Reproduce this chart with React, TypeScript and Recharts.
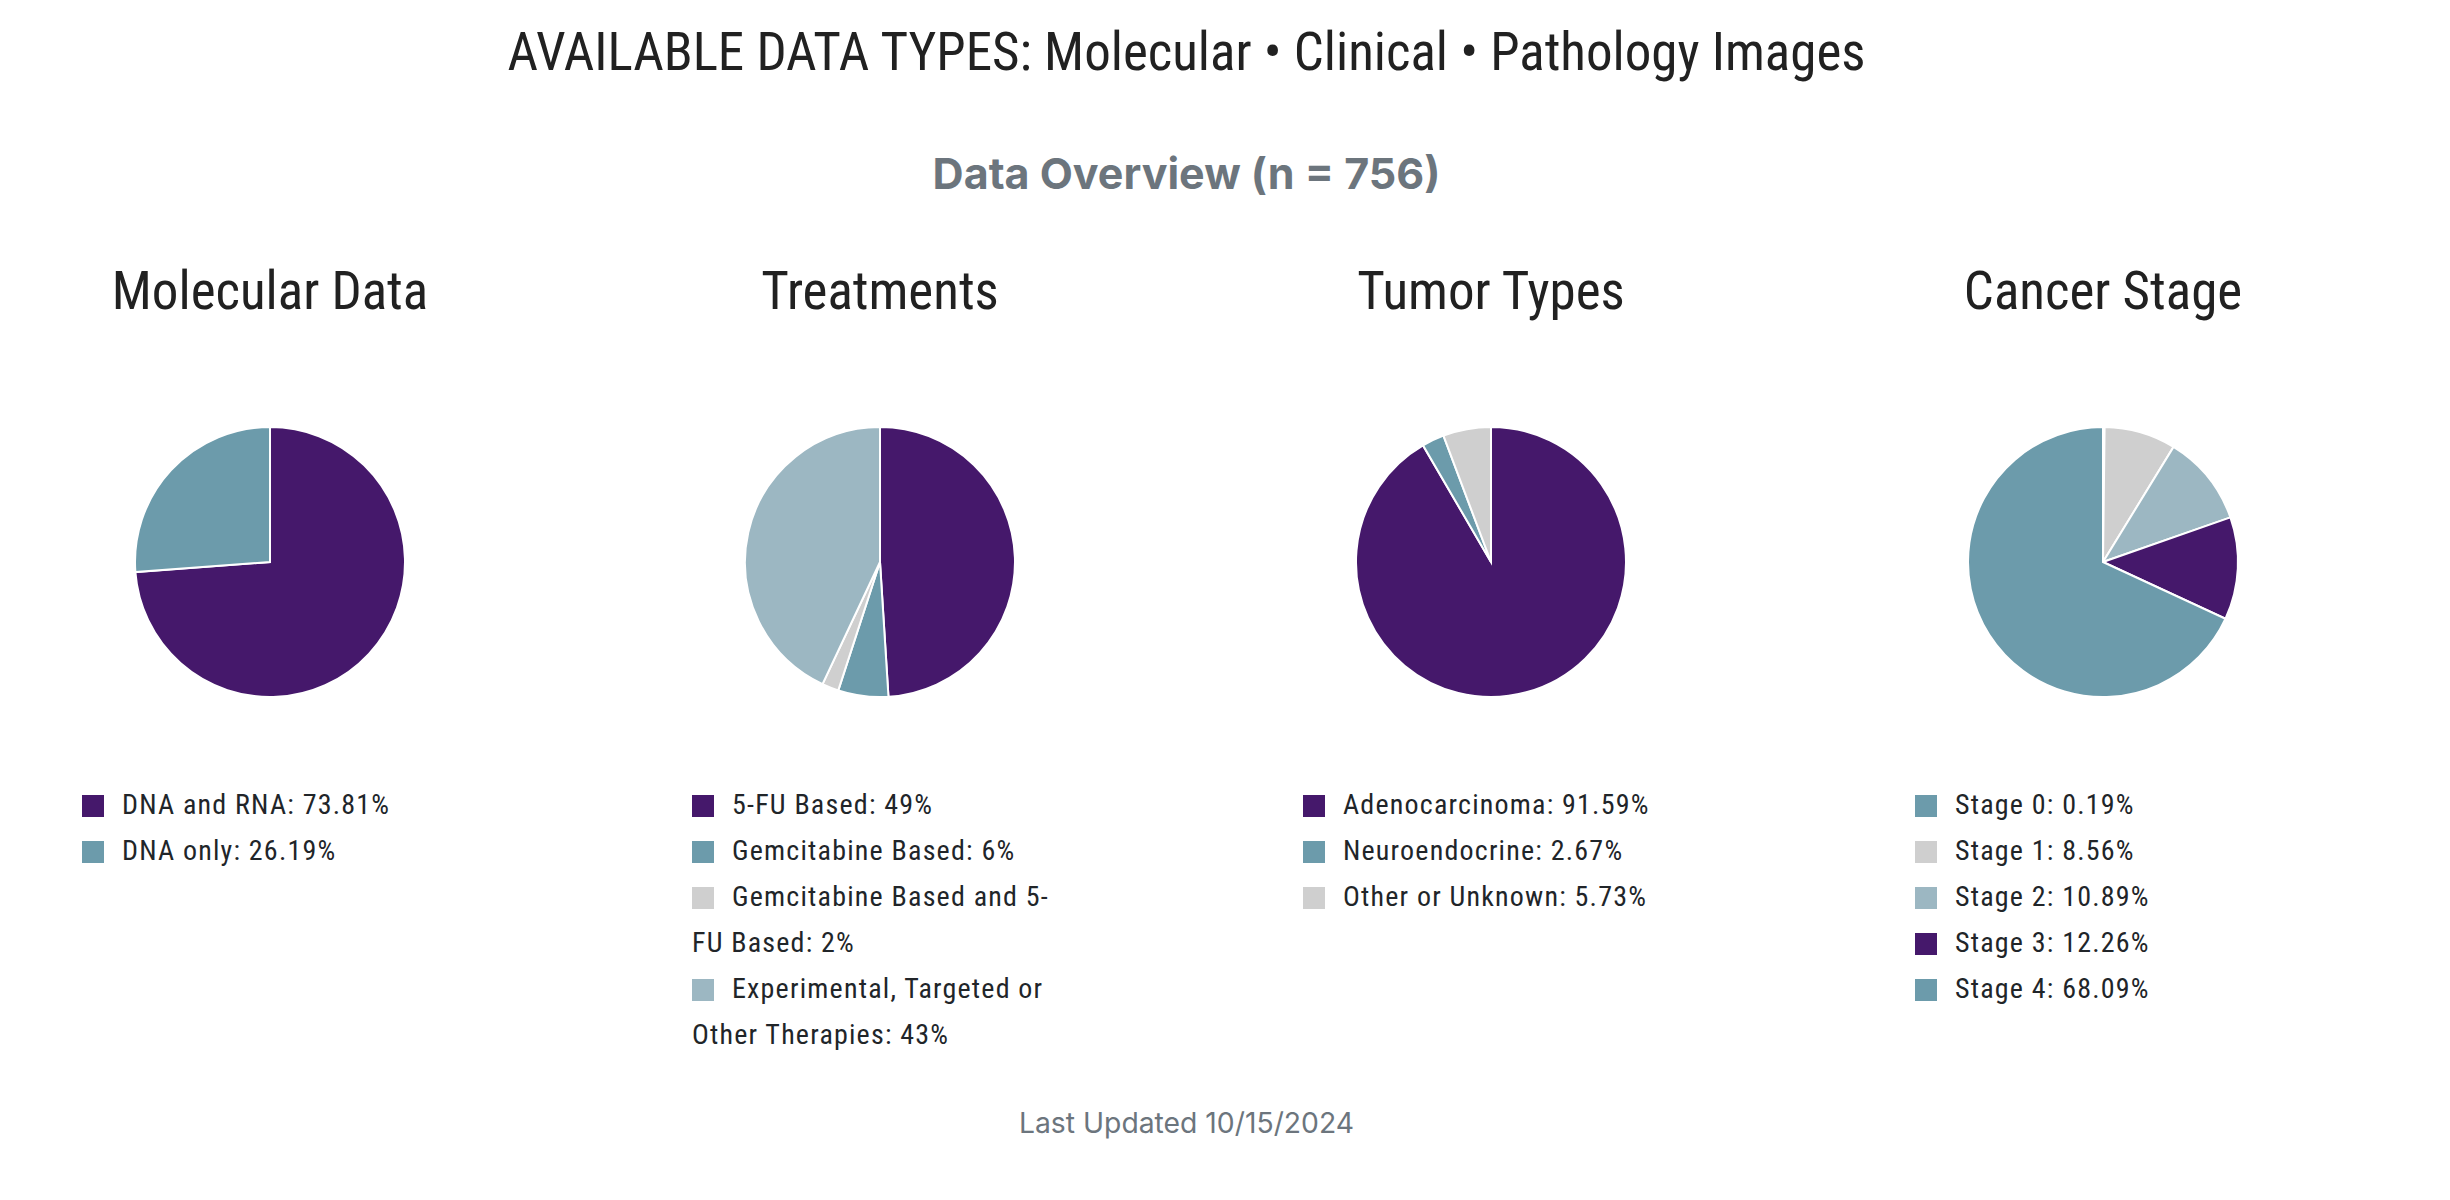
import React from "react";
import { PieChart, Pie, Cell } from "recharts";

const PURPLE = "#45186b";
const TEAL = "#6c9bab";
const LIGHT = "#9cb7c2";
const GRAY = "#cfcfcf";

const molecularLabels = ["DNA and RNA", "DNA only"];
const molecularValues = [73.81, 26.19];
const molecularColors = [PURPLE, TEAL];

const treatmentLabels = [
  "5-FU Based",
  "Gemcitabine Based",
  "Gemcitabine Based and 5-FU Based",
  "Experimental, Targeted or Other Therapies",
];
const treatmentValues = [49, 6, 2, 43];
const treatmentColors = [PURPLE, TEAL, GRAY, LIGHT];

const tumorLabels = ["Adenocarcinoma", "Neuroendocrine", "Other or Unknown"];
const tumorValues = [91.59, 2.67, 5.73];
const tumorColors = [PURPLE, TEAL, GRAY];

const stageLabels = ["Stage 0", "Stage 1", "Stage 2", "Stage 3", "Stage 4"];
const stageValues = [0.19, 8.56, 10.89, 12.26, 68.09];
const stageColors = [TEAL, GRAY, LIGHT, PURPLE, TEAL];

const COND = "'Roboto Condensed', 'Liberation Sans Narrow', 'DejaVu Sans Condensed', Roboto, sans-serif";
const SANS = "Inter, 'Noto Sans', sans-serif";

const panels = [
  { title: "Molecular Data", labels: molecularLabels, values: molecularValues, colors: molecularColors, cx: 270 },
  { title: "Treatments", labels: treatmentLabels, values: treatmentValues, colors: treatmentColors, cx: 880 },
  { title: "Tumor Types", labels: tumorLabels, values: tumorValues, colors: tumorColors, cx: 1491 },
  { title: "Cancer Stage", labels: stageLabels, values: stageValues, colors: stageColors, cx: 2103 },
];

function Panel({ title, labels, values, colors, cx }: any) {
  const data = labels.map((name: string, i: number) => ({ name, value: values[i] }));
  return (
    <>
      <div
        style={{
          position: "absolute", left: cx - 270, top: 261, width: 540, height: 60,
          lineHeight: "60px", textAlign: "center", fontFamily: COND, fontStretch: "condensed",
          fontSize: 53, color: "#212121",
        }}
      >
        {title}
      </div>
      <div style={{ position: "absolute", left: cx - 270, top: 412 }}>
        <PieChart width={540} height={300} margin={{ top: 0, right: 0, bottom: 0, left: 0 }}>
          <Pie
            data={data}
            dataKey="value"
            nameKey="name"
            cx="50%"
            cy="50%"
            outerRadius={135}
            startAngle={90}
            endAngle={-270}
            stroke="#ffffff"
            strokeWidth={2}
            isAnimationActive={false}
          >
            {data.map((d: any, i: number) => (
              <Cell key={d.name} fill={colors[i]} />
            ))}
          </Pie>
        </PieChart>
      </div>
      <div
        style={{
          position: "absolute", left: cx - 188, top: 782, width: 376,
          fontFamily: COND, fontStretch: "condensed", fontSize: 28, letterSpacing: "1.2px",
          lineHeight: "46px", color: "#212529",
        }}
      >
        {data.map((d: any, i: number) => (
          <div key={d.name}>
            <span
              style={{
                display: "inline-block", width: 22, height: 22, background: colors[i],
                marginRight: 18, verticalAlign: "-3px",
              }}
            />
            {d.name}: {d.value}%
          </div>
        ))}
      </div>
    </>
  );
}

export default function App() {
  return (
    <div style={{ position: "absolute", left: 0, top: 0, width: 2450, height: 1200, background: "#fff" }}>
      <div
        style={{
          position: "absolute", left: 0, top: 22, width: 2373, height: 60, lineHeight: "60px",
          textAlign: "center", fontFamily: COND, fontStretch: "condensed", fontSize: 53, color: "#212121",
        }}
      >
        AVAILABLE DATA TYPES: Molecular • Clinical • Pathology Images
      </div>
      <div
        style={{
          position: "absolute", left: 0, top: 148, width: 2373, height: 50, lineHeight: "50px",
          textAlign: "center", fontFamily: SANS, fontWeight: 700, fontSize: 43, color: "#6c757d",
        }}
      >
        Data Overview (n = 756)
      </div>
      {panels.map((p) => (
        <Panel key={p.title} {...p} />
      ))}
      <div
        style={{
          position: "absolute", left: 0, top: 1103, width: 2373, height: 40, lineHeight: "40px",
          textAlign: "center", fontFamily: SANS, fontSize: 28.3, color: "#6c757d",
        }}
      >
        Last Updated 10/15/2024
      </div>
    </div>
  );
}
